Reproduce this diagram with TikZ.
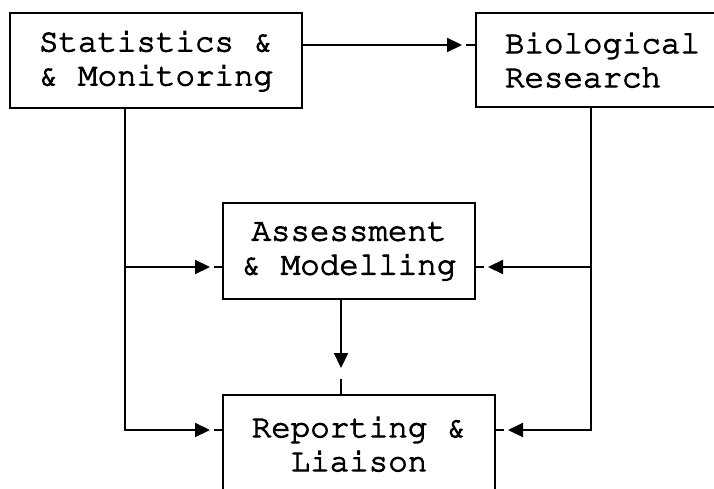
\documentclass[tikz,border=0pt]{standalone}
\usepackage[T1,TU]{fontenc}
\usepackage{fontspec}
\newcommand\boxfont{\fontencoding{T1}\fontfamily{pcr}\fontseries{m}\selectfont}
\usetikzlibrary{arrows.meta,calc}
\begin{document}
\begin{tikzpicture}[x=1pt,y=-1pt,
  boxnode/.style={draw,line width=2.6pt,rectangle,inner sep=0pt,outer sep=0pt,
    font=\boxfont\fontsize{32.5}{34}\selectfont,align=center,
    execute at begin node={\special{pdf:literal q 2 Tr 1.0 w}},
    execute at end node={\special{pdf:literal Q}}},
  conn/.style={line width=2.2pt},
  tipconn/.style={line width=2.2pt,-{Triangle[length=15pt,width=14pt]}},
]
\useasboundingbox (0,0) rectangle (714,489);
\clip (0,0) rectangle (714,489);
\node[boxnode,minimum width=292pt,minimum height=95pt] (b1) at (156,60.5) {Statistics \&\\\& Monitoring};
\node[boxnode,anchor=west,text width=250pt,align=left,inner xsep=29pt,minimum height=94pt] (b2) at (476,60) {Biological\\Research};
\node[boxnode,minimum width=252pt,minimum height=96pt] (b3) at (349,251) {Assessment\\\& Modelling};
\node[boxnode,anchor=north,minimum width=272pt,minimum height=98pt] (b4) at (359,395) {Reporting \&\\Liaison};

\coordinate (ytop) at (0,45);
\coordinate (ymid) at (0,267);
\coordinate (ybot) at (0,430);
\coordinate (xl) at (125,0);
\coordinate (xr) at (591,0);
\coordinate (xm) at (341,0);

% Statistics -> Biological
\draw[tipconn] (b1.east |- ytop) -- ($(b2.west |- ytop)+(-14,0)$);
\draw[conn] ($(b2.west |- ytop)+(-10,0)$) -- (b2.west |- ytop);

% left trunk
\draw[tipconn] (b1.south -| xl) |- ($(b4.west |- ybot)+(-13,0)$);
\draw[conn] ($(b4.west |- ybot)+(-9,0)$) -- (b4.west |- ybot);
\draw[tipconn] (xl |- ymid) -- ($(b3.west |- ymid)+(-13,0)$);
\draw[conn] ($(b3.west |- ymid)+(-9,0)$) -- (b3.west |- ymid);

% right trunk
\draw[tipconn] (b2.south -| xr) |- ($(b4.east |- ybot)+(13,0)$);
\draw[conn] ($(b4.east |- ybot)+(9,0)$) -- (b4.east |- ybot);
\draw[tipconn] (xr |- ymid) -- ($(b3.east |- ymid)+(13,0)$);
\draw[conn] ($(b3.east |- ymid)+(9,0)$) -- (b3.east |- ymid);

% Assessment -> Reporting
\draw[tipconn] (b3.south -| xm) -- ($(b4.north -| xm)+(0,-27)$);
\draw[conn] ($(b4.north -| xm)+(0,-16)$) -- (b4.north -| xm);
\end{tikzpicture}
\end{document}
